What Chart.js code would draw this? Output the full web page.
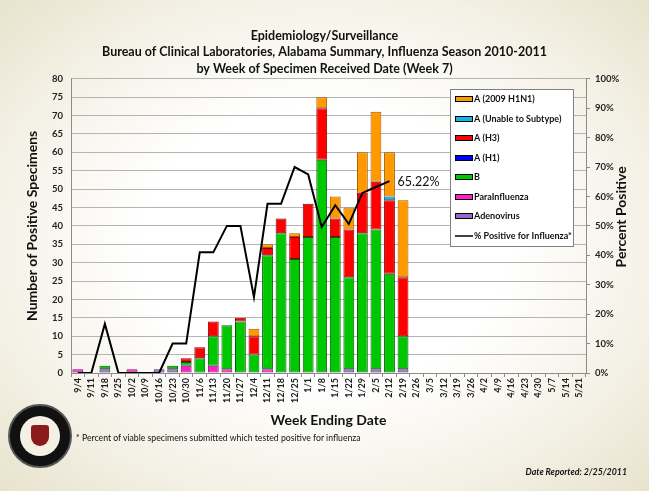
<!DOCTYPE html>
<html>
<head>
<meta charset="utf-8">
<title>Influenza Season 2010-2011</title>
<script src="https://cdn.jsdelivr.net/npm/chart.js@4.4.0/dist/chart.umd.min.js"></script>
<style>
  html, body { margin: 0; padding: 0; }
  body {
    width: 649px; height: 491px; overflow: hidden; position: relative;
    background: radial-gradient(ellipse at 50% 50%, #ffffff 40%, #f3f0e4 75%, #e8e3cd 100%);
    font-family: Lato, "Liberation Sans", sans-serif;
  }
  #grafico { position: absolute; left: 0; top: 0; }
  .sello {
    position: absolute; left: 8px; top: 404px; width: 64px; height: 64px;
    border-radius: 50%; background: #111; box-sizing: border-box;
    border: 2px solid #555;
  }
  .sello div {
    position: absolute; left: 10px; top: 10px; width: 40px; height: 40px;
    border-radius: 50%; background: #f4f0e6;
  }
  .sello span {
    position: absolute; left: 21px; top: 19px; width: 18px; height: 21px;
    background: #8b1a1a; border-radius: 3px 3px 9px 9px;
  }
  .nota {
    position: absolute; left: 76px; top: 432px; font-size: 8.7px; color: #111;
    white-space: nowrap;
  }
  .fecha {
    position: absolute; right: 22px; top: 466px; font-size: 8.8px; color: #111;
    font-weight: bold; font-style: italic; white-space: nowrap;
  }
</style>
</head>
<body>
<canvas id="grafico" width="649" height="491"></canvas>
<div class="sello"><div></div><span></span></div>
<div class="nota">* Percent of viable specimens submitted which tested positive for influenza</div>
<div class="fecha">Date Reported: 2/25/2011</div>
<script>
const semanas = ["9/4", "9/11", "9/18", "9/25", "10/2", "10/9", "10/16", "10/23", "10/30", "11/6",
    "11/13", "11/20", "11/27", "12/4", "12/11", "12/18", "12/25", "1/1", "1/8", "1/15",
    "1/22", "1/29", "2/5", "2/12", "2/19", "2/26", "3/5", "3/12", "3/19", "3/26",
    "4/2", "4/9", "4/16", "4/23", "4/30", "5/7", "5/14", "5/21"];

// conteos por semana (9/4 .. 2/19)
const paraInfluenza = [1, 0, 0, 0, 1, 0, 0, 0, 2, 0, 2, 1, 0, 0, 1, 0, 0, 0, 0, 0, 0, 0, 0, 0, 0];
const adenovirus    = [0, 0, 1, 0, 0, 0, 1, 1, 0, 0, 0, 0, 0, 0, 0, 0, 0, 0, 0, 0, 1, 0, 1, 0, 1];
const gripeB        = [0, 0, 1, 0, 0, 0, 0, 1, 1, 4, 8, 12, 14, 5, 31, 38, 31, 37, 58, 37, 25, 38, 38, 27, 9];
const gripeH1       = [0, 0, 0, 0, 0, 0, 0, 0, 0, 0, 0, 0, 0, 0, 0, 0, 0, 0, 0, 0, 0, 0, 0, 0, 0];
const gripeH3       = [0, 0, 0, 0, 0, 0, 0, 0, 1, 3, 4, 0, 1, 5, 2, 4, 6, 9, 14, 5, 13, 11, 13, 20, 16];
const sinSubtipo    = [0, 0, 0, 0, 0, 0, 0, 0, 0, 0, 0, 0, 0, 0, 0, 0, 0, 0, 0, 0, 0, 0, 0, 1, 0];
const pandemica     = [0, 0, 0, 0, 0, 0, 0, 0, 0, 0, 0, 0, 0, 2, 1, 0, 1, 0, 3, 6, 6, 11, 19, 12, 21];

// % positivo para influenza (9/4 .. 2/12)
const porcentaje = [0, 0, 16.7, 0, 0, 0, 0, 10, 10, 41, 41, 50, 50, 25.8, 57.5, 57.5, 70, 67.5,
    49.6, 57, 50.6, 61.2, 63.2, 65.22];

const ticksIzq = [0, 80, 5];
const ticksDer = [0, 100, 10];

const F = "Lato, 'Liberation Sans', sans-serif";

function barra(label, data, fondo, borde) {
    return {
        type: 'bar', label: label, data: data, yAxisID: 'y', order: 1,
        backgroundColor: fondo, borderColor: borde, borderWidth: 1, borderSkipped: false,
        barPercentage: 0.8, categoryPercentage: 1.0
    };
}

const datasets = [
    barra('ParaInfluenza', paraInfluenza, '#ff1fc8', '#8a1070'),
    barra('Adenovirus', adenovirus, '#9966cc', '#4b2f70'),
    barra('B', gripeB, '#00c800', '#0b5a0b'),
    barra('A (H1)', gripeH1, '#0000ff', '#000080'),
    barra('A (H3)', gripeH3, '#ff0000', '#8a0000'),
    barra('A (Unable to Subtype)', sinSubtipo, '#13b4ee', '#0a5a80'),
    barra('A (2009 H1N1)', pandemica, '#ff9900', '#a05a00'),
    {
        type: 'line', label: '% Positive for Influenza*', data: porcentaje, yAxisID: 'y1', order: 0,
        borderColor: '#000', backgroundColor: '#000', borderWidth: 2, pointRadius: 0, tension: 0
    }
];

// orden de la leyenda: de arriba hacia abajo
const ordenLeyenda = [6, 5, 4, 3, 2, 0, 1, 7];

const leyenda = {
    id: 'leyenda',
    afterDraw(chart) {
        const ctx = chart.ctx;
        const x0 = 450, y0 = 89, w = 123, h = 157;
        ctx.save();
        ctx.fillStyle = '#ffffff';
        ctx.fillRect(x0, y0, w, h);
        ctx.strokeStyle = '#808080';
        ctx.lineWidth = 1;
        ctx.strokeRect(x0 + 0.5, y0 + 0.5, w, h);
        ctx.font = 'bold 9px ' + F;
        ctx.textBaseline = 'middle';
        ordenLeyenda.forEach((idx, i) => {
            const ds = chart.data.datasets[idx];
            const y = Math.round(y0 + 10 + i * 19.5);
            if (ds.type === 'line') {
                ctx.strokeStyle = '#000';
                ctx.lineWidth = 1.5;
                ctx.beginPath();
                ctx.moveTo(455, y);
                ctx.lineTo(473, y);
                ctx.stroke();
            } else {
                ctx.fillStyle = ds.backgroundColor;
                ctx.fillRect(455, y - 3, 18, 6);
                ctx.strokeStyle = '#000';
                ctx.lineWidth = 1;
                ctx.strokeRect(455.5, y - 2.5, 17, 5);
            }
            ctx.fillStyle = '#111';
            ctx.fillText(ds.label, 474, y + 0.5);
        });
        ctx.restore();
    }
};

const extras = {
    id: 'extras',
    afterDatasetsDraw(chart) {
        const ctx = chart.ctx;
        // etiqueta del ultimo punto
        const meta = chart.getDatasetMeta(7);
        const ult = meta.data[meta.data.length - 1];
        ctx.save();
        ctx.font = '12.5px ' + F;
        ctx.fillStyle = '#111';
        ctx.textBaseline = 'middle';
        ctx.fillText(porcentaje[porcentaje.length - 1].toFixed(2) + '%', ult.x + 8, ult.y + 1);
        // titulo del eje derecho
        const a = chart.chartArea;
        ctx.font = 'bold 14px ' + F;
        ctx.textAlign = 'center';
        ctx.translate(621, (a.top + a.bottom) / 2 - 9);
        ctx.rotate(-Math.PI / 2);
        ctx.fillStyle = '#111';
        ctx.fillText('Percent Positive', 0, 0);
        ctx.restore();
    }
};

new Chart(document.getElementById('grafico'), {
    data: { labels: semanas, datasets: datasets },
    plugins: [extras, leyenda],
    options: {
        responsive: false,
        animation: false,
        layout: { padding: { left: 0, right: 0, top: 0, bottom: 62 } },
        plugins: {
            legend: { display: false },
            tooltip: { enabled: false },
            title: {
                display: true,
                text: ['Epidemiology/Surveillance',
                    'Bureau of Clinical Laboratories, Alabama Summary, Influenza Season 2010-2011',
                    'by Week of Specimen Received Date (Week 7)'],
                font: { family: F, size: 12.5, weight: 'bold', lineHeight: 1.3 },
                color: '#111',
                padding: { top: 28, bottom: 2 }
            }
        },
        scales: {
            x: {
                stacked: true,
                grid: { drawOnChartArea: false, tickLength: 4, color: '#8c8c8c', offset: true },
                border: { color: '#8c8c8c' },
                ticks: {
                    autoSkip: false, minRotation: 90, maxRotation: 90, padding: 1,
                    font: { family: F, size: 9, weight: 'bold' }, color: '#222'
                },
                title: {
                    display: true, text: 'Week Ending Date', color: '#111',
                    font: { family: F, size: 14, weight: 'bold' }, padding: { top: 0, bottom: 0 }
                },
                afterFit(s) { s.height = 56; }
            },
            y: {
                stacked: true, position: 'left',
                min: ticksIzq[0], max: ticksIzq[1],
                ticks: { stepSize: ticksIzq[2], padding: 8, font: { family: F, size: 9.5, weight: 'bold' }, color: '#222' },
                grid: { color: '#b4b4b4', drawTicks: false },
                border: { color: '#8c8c8c' },
                title: {
                    display: true, text: 'Number of Positive Specimens', color: '#111',
                    font: { family: F, size: 14, weight: 'bold' }, padding: { top: 24 }
                },
                afterFit(s) { s.width = 71; }
            },
            y1: {
                position: 'right',
                min: ticksDer[0], max: ticksDer[1],
                ticks: {
                    stepSize: ticksDer[2], padding: 5,
                    font: { family: F, size: 9.5, weight: 'bold' }, color: '#222',
                    callback: v => v + '%'
                },
                grid: { drawOnChartArea: false, tickLength: 4, color: '#8c8c8c' },
                border: { color: '#8c8c8c' },
                afterFit(s) { s.width = 63; }
            }
        }
    }
});
</script>
</body>
</html>
